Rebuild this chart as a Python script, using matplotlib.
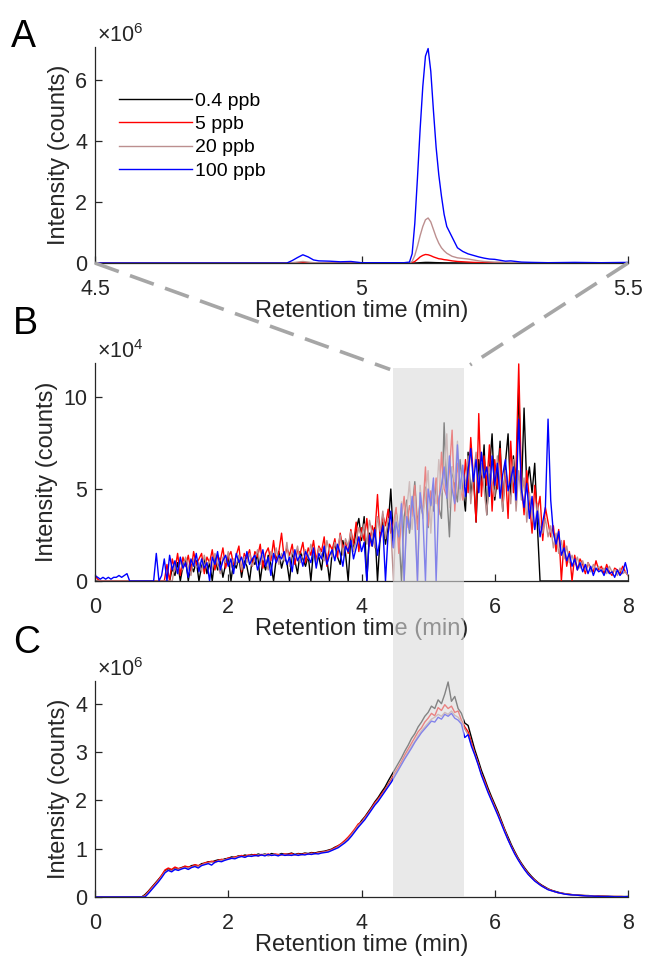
import numpy as np
import matplotlib
matplotlib.use("Agg")
import matplotlib.pyplot as plt
from matplotlib.patches import Rectangle
from matplotlib.lines import Line2D

plt.rcParams['font.family'] = ['Liberation Sans', 'DejaVu Sans']
plt.rcParams['mathtext.fontset'] = 'custom'
plt.rcParams['mathtext.rm'] = 'Liberation Sans'
plt.rcParams['mathtext.it'] = 'Liberation Sans:italic'

# ---------------- data ----------------
labels = ['0.4 ppb', '5 ppb', '20 ppb', '100 ppb']
colors = ['#000000', '#ff0000', '#bc8f8f', '#0000ff']

# panel A: zoom 4.5-5.5 min, intensity in 1e6 counts
rt_a = [4.50, 4.60, 4.70, 4.80, 4.85, 4.86, 4.87, 4.88, 4.89, 4.90,
        4.91, 4.92, 4.94, 4.96, 4.98, 5.00, 5.02, 5.04, 5.06, 5.08,
        5.09, 5.095, 5.10, 5.105, 5.11, 5.115, 5.12, 5.125, 5.13, 5.135,
        5.14, 5.145, 5.15, 5.155, 5.16, 5.17, 5.18, 5.19, 5.20, 5.21,
        5.22, 5.23, 5.24, 5.25, 5.26, 5.27, 5.28, 5.30, 5.32, 5.35,
        5.40, 5.45, 5.50]
a_04 = [0, 0, 0, 0, 0, 0, 0, 0, 0, 0,
        0, 0, 0, 0, 0, 0, 0, 0, 0, 0,
        0, 0, 0, 0.005, 0.01, 0.015, 0.02, 0.02, 0.018, 0.015,
        0.012, 0.01, 0.008, 0.006, 0.005, 0.004, 0.003, 0.002, 0.002, 0.001,
        0, 0, 0, 0, 0, 0, 0, 0, 0, 0,
        0, 0, 0]
a_5 = [0, 0, 0, 0, 0, 0, 0.003, 0.006, 0.01, 0.006,
       0.003, 0.002, 0.001, 0, 0, 0, 0, 0, 0, 0,
       0, 0.01, 0.05, 0.12, 0.2, 0.25, 0.28, 0.27, 0.24, 0.2,
       0.17, 0.14, 0.13, 0.11, 0.1, 0.07, 0.05, 0.04, 0.03, 0.02,
       0.015, 0.01, 0.01, 0.01, 0.008, 0.005, 0.005, 0.003, 0.002, 0.001,
       0, 0, 0]
a_20 = [0, 0, 0, 0, 0, 0, 0.01, 0.03, 0.05, 0.03,
        0.01, 0.01, 0.005, 0, 0, 0, 0, 0, 0, 0,
        0, 0.05, 0.25, 0.55, 0.9, 1.2, 1.42, 1.48, 1.35, 1.1,
        0.85, 0.65, 0.5, 0.4, 0.32, 0.22, 0.17, 0.15, 0.13, 0.1,
        0.07, 0.05, 0.04, 0.03, 0.03, 0.02, 0.02, 0.01, 0.01, 0.01,
        0.005, 0.005, 0.005]
a_100 = [0, 0, 0, 0, 0, 0, 0.08, 0.18, 0.27, 0.2,
         0.1, 0.07, 0.06, 0.04, 0.05, 0.01, 0.01, 0.01, 0.01, 0.01,
         0.03, 0.3, 1.3, 2.8, 4.4, 5.8, 6.8, 7.05, 6.3, 5.0,
         3.8, 2.9, 2.2, 1.6, 1.2, 0.85, 0.5, 0.38, 0.3, 0.25,
         0.2, 0.16, 0.13, 0.12, 0.09, 0.06, 0.07, 0.03, 0.02, 0.01,
         0.02, 0.01, 0.02]

# panel B: extracted ion trace, 0-8 min every 0.04 min, intensity in 1e4 counts
rt_b = np.round(np.arange(201) * 0.04, 2)
b_04 = ([0] * 29 + [0.7] +
        [0.3, 1.0, 0, 0.8, 1.2, 0, 0.9, 0.5, 1.1, 0,
         0.8, 1.2, 0.4, 1.0, 0, 1.3, 0.6, 1.1, 0.2, 0.9,
         1.4, 0, 1.0, 0.7, 1.3, 0.2, 1.1, 0.8, 0, 1.2,
         0.9, 1.5, 0, 1.1, 0.6, 1.4, 0.9, 0, 1.2, 1.6,
         0.7, 1.3, 1.0, 0, 1.5, 1.1, 0.4, 1.6, 1.2, 0.8,
         1.4, 0, 1.7, 1.1, 1.3, 0.6, 1.8, 1.2, 0, 1.6,
         2.0, 1.3, 0.9, 2.2, 1.5, 0, 2.4, 1.8, 2.8, 3.4,
         2.2, 3.5, 0, 2.6, 1.9, 2.9, 0, 2.4, 3.2, 2.0,
         3.0, 5.0, 2.2, 3.8, 2.7, 0, 3.5, 4.4, 2.6, 3.9,
         5.4, 3.1, 4.2, 3.6, 5.1, 2.9, 4.5, 3.8, 5.3, 4.0,
         3.4, 8.6, 4.8, 2.4, 6.2, 5.1, 4.3, 6.6, 5.0, 3.8,
         7.0, 4.6, 5.9, 3.2, 6.6, 5.2, 7.4, 3.6, 6.0, 8.0,
         4.4, 5.6, 7.6, 3.8, 6.4, 8.0, 4.6, 6.8, 5.0, 10.6,
         4.8, 9.4, 5.2, 6.2, 4.8, 6.4, 3.0, 0, 0, 0] +
        [0] * 31)
b_5 = [0.3, 0.1, 0, 0, 0, 0, 0, 0, 0, 0,
       0, 0, 0, 0, 0, 0, 0, 0, 0, 0,
       0, 0, 0, 0, 0, 0, 0, 0.9, 0, 1.2,
       0.6, 1.5, 0.3, 1.3, 0.8, 1.4, 0.5, 1.6, 0.9, 1.2,
       1.5, 0.4, 1.3, 1.0, 1.7, 0.6, 1.4, 1.1, 1.8, 0.7,
       1.3, 1.6, 0.9, 1.4, 1.9, 0.5, 1.5, 1.2, 1.7, 0.8,
       1.6, 1.3, 2.0, 0.7, 1.5, 1.8, 1.1, 2.2, 1.0, 1.6,
       2.6, 1.2, 1.8, 1.4, 2.0, 0.9, 1.7, 1.5, 2.1, 1.0,
       1.8, 1.4, 2.2, 1.1, 1.9, 1.6, 2.4, 0.8, 2.0, 1.7,
       2.3, 1.3, 2.6, 1.8, 2.1, 1.5, 2.8, 2.0, 3.2, 1.6,
       2.9, 2.2, 3.4, 1.9, 3.0, 2.5, 4.7, 2.2, 3.6, 3.0,
       3.9, 2.6, 3.2, 4.0, 1.5, 3.4, 4.6, 2.9, 4.1, 3.5,
       5.2, 2.8, 4.4, 3.8, 6.2, 3.0, 4.9, 4.2, 5.6, 3.6,
       7.0, 5.0, 4.6, 6.0, 8.2, 3.8, 6.4, 5.2, 4.4, 6.6,
       4.8, 7.8, 5.6, 3.2, 9.1, 4.6, 6.8, 5.2, 7.4, 3.8,
       6.6, 5.0, 7.2, 4.2, 6.0, 3.4, 7.6, 4.8, 6.2, 11.8,
       5.4, 3.6, 6.0, 4.4, 2.6, 5.2, 3.8, 4.6, 2.2, 4.0,
       3.2, 2.4, 3.0, 1.6, 2.8, 0, 2.2, 0.8, 1.6, 0,
       1.4, 0.6, 1.2, 0.9, 0.4, 1.0, 0.7, 0.5, 1.1, 0.6,
       0.8, 0.4, 0.9, 0.5, 0.3, 0.7, 0.6, 0.4, 0.8, 0.5, 0.3]
b_20 = ([0] * 30 +
        [0.9, 0.4, 1.1, 0.6, 1.3, 0.8, 0.3, 1.2, 0.7, 1.0,
         0.5, 1.4, 0.8, 1.1, 0.6, 1.5, 0.9, 0.4, 1.3, 1.0,
         1.6, 0.7, 1.2, 0.9, 1.4, 0.6, 1.3, 1.0, 1.5, 0.8,
         1.2, 1.7, 0.9, 1.4, 1.1, 0.6, 1.6, 1.2, 1.8, 0.9,
         1.5, 1.1, 2.1, 0.8, 1.6, 1.3, 1.9, 1.0, 1.4, 1.7,
         1.2, 2.0, 1.5, 0.9, 1.8, 1.4, 1.1, 2.2, 1.6, 1.3,
         2.1, 1.7, 2.5, 1.4, 2.3, 1.9, 2.7, 1.6, 2.2, 2.9,
         2.4, 3.1, 2.0, 3.3, 2.6, 1.8, 3.5, 2.7, 3.8, 2.3,
         3.4, 2.9, 0, 3.6, 2.5, 4.3, 0, 3.9, 5.4, 2.8,
         4.6, 0, 5.2, 3.4, 4.7, 6.0, 2.6, 5.0, 4.2, 6.6,
         4.8, 5.6, 8.0, 4.0, 6.2, 5.4, 7.6, 4.4, 6.0, 5.2,
         6.8, 4.2, 5.8, 7.0, 4.8, 6.4, 5.0, 3.6, 6.2, 5.4,
         4.6, 6.8, 5.2, 3.8, 6.0, 5.4, 4.2, 6.6, 3.8, 6.0,
         4.4, 5.6, 3.2, 4.8, 3.6, 2.8, 4.2, 3.0, 2.6, 3.4,
         2.4, 3.0, 1.8, 2.6, 1.5, 2.2, 1.2, 1.9, 1.0, 1.4,
         0.9, 1.3, 0.7, 1.1, 0.6, 1.0, 0.5, 0.9, 0.6, 0.8,
         0.5, 0.7, 0.4, 0.8, 0.5, 0.6, 0.3, 0.7, 0.4, 0.5, 0.3])
b_100 = [0.3, 0.2, 0.1, 0.2, 0.1, 0.2, 0.1, 0.2, 0.2, 0.3,
         0.2, 0.3, 0.4, 0, 0, 0, 0, 0, 0, 0,
         0, 0, 0, 1.5, 0, 0.3, 1.2, 0, 1.4, 0.6,
         1.1, 0.4, 1.3, 0.7, 1.0, 0.2, 1.2, 0.8, 1.5, 0.5,
         1.2, 0.7, 1.0, 0, 1.3, 0.9, 1.6, 0.6, 1.1, 1.4,
         0.8, 1.2, 0.4, 1.5, 1.0, 1.3, 0.7, 1.6, 0.9, 1.2,
         1.4, 0.6, 1.1, 1.7, 0.8, 1.3, 0.3, 1.5, 1.0, 1.4,
         1.2, 1.6, 0.9, 1.3, 0.5, 1.7, 1.1, 1.4, 0.8, 1.6,
         1.3, 1.0, 1.8, 0.7, 1.5, 1.2, 1.9, 0.9, 1.4, 1.7,
         1.1, 2.0, 1.5, 0.8, 1.9, 1.6, 2.2, 1.2, 1.8, 2.4,
         1.6, 2.1, 0, 2.5, 1.9, 2.8, 1.4, 2.3, 3.0, 0,
         2.6, 3.8, 1.8, 3.2, 2.4, 4.2, 0, 3.5, 2.8, 4.6,
         3.3, 0, 4.8, 3.6, 0, 5.0, 4.1, 5.6, 0, 4.4,
         5.2, 6.2, 4.5, 6.8, 5.0, 4.2, 7.4, 5.0, 6.3, 4.6,
         6.0, 7.2, 5.4, 6.6, 4.8, 7.0, 5.6, 6.2, 4.6, 6.8,
         5.2, 6.4, 4.5, 5.8, 6.6, 4.9, 5.5, 6.2, 4.4, 8.8,
         5.0, 4.0, 5.3, 3.4, 4.6, 2.8, 3.8, 2.4, 3.2, 4.0,
         8.8, 4.4, 2.6, 2.0, 2.7, 1.4, 1.8, 1.1, 1.5, 0.8,
         1.2, 0.6, 1.0, 0.5, 0.9, 0.4, 0.8, 0.3, 0.7, 0.5,
         0.6, 0.3, 0.7, 0.4, 0.5, 0.2, 0.6, 0.3, 0.5, 1.0, 0.4]

# panel C: total ion chromatogram, 0-8 min every 0.05 min, intensity in 1e6 counts
rt_c = np.round(np.arange(161) * 0.05, 2)
c_04 = ([0] * 15 +
        [0.05, 0.12, 0.20, 0.28, 0.36,
         0.44, 0.54, 0.58, 0.55, 0.60, 0.58, 0.61, 0.63, 0.61, 0.65,
         0.66, 0.64, 0.69, 0.70, 0.73, 0.72, 0.75, 0.77, 0.76, 0.79,
         0.80, 0.83, 0.82, 0.85, 0.84, 0.87, 0.85, 0.88, 0.86, 0.89,
         0.87, 0.89, 0.86, 0.90, 0.88, 0.87, 0.90, 0.88, 0.89, 0.91,
         0.88, 0.90, 0.89, 0.91, 0.90, 0.92, 0.91, 0.93, 0.94, 0.95,
         0.97, 0.99, 1.03, 1.06, 1.10, 1.16, 1.22, 1.30, 1.38, 1.47,
         1.58, 1.66, 1.76, 1.86, 1.97, 2.06, 2.17, 2.27, 2.40, 2.52,
         2.64, 2.76, 2.88, 3.02, 3.14, 3.28, 3.38, 3.52, 3.62, 3.74,
         3.82, 3.95, 3.90, 4.08, 4.00, 4.20, 4.45, 4.05, 4.15, 3.90,
         3.80, 3.60, 3.55, 3.30, 3.05, 2.84, 2.62, 2.44, 2.25, 2.08,
         1.92, 1.76, 1.58, 1.40, 1.24, 1.08, 0.94, 0.81, 0.70, 0.60,
         0.51, 0.43, 0.36, 0.30, 0.25, 0.21, 0.17, 0.14, 0.12, 0.10,
         0.08, 0.07, 0.06, 0.05, 0.045, 0.04, 0.035, 0.03, 0.03, 0.025,
         0.02, 0.02, 0.02, 0.015, 0.015, 0.01, 0.01, 0.01, 0.01, 0.01, 0.01])
c_5 = ([0] * 15 +
       [0.03, 0.11, 0.19, 0.27, 0.35,
        0.45, 0.56, 0.60, 0.57, 0.62, 0.59, 0.60, 0.64, 0.62, 0.63,
        0.67, 0.65, 0.67, 0.71, 0.72, 0.74, 0.73, 0.76, 0.78, 0.77,
        0.81, 0.80, 0.83, 0.84, 0.86, 0.84, 0.87, 0.86, 0.88, 0.85,
        0.88, 0.87, 0.89, 0.86, 0.89, 0.88, 0.87, 0.89, 0.88, 0.90,
        0.87, 0.89, 0.88, 0.90, 0.89, 0.91, 0.90, 0.92, 0.93, 0.94,
        0.96, 0.98, 1.02, 1.06, 1.11, 1.17, 1.24, 1.32, 1.41, 1.51,
        1.55, 1.65, 1.74, 1.84, 1.95, 2.03, 2.13, 2.22, 2.33, 2.44,
        2.57, 2.68, 2.80, 2.94, 3.06, 3.18, 3.30, 3.42, 3.50, 3.62,
        3.70, 3.80, 3.75, 3.92, 3.86, 3.98, 3.90, 3.95, 3.82, 3.85,
        3.66, 3.52, 3.42, 3.20, 2.98, 2.78, 2.55, 2.40, 2.20, 2.04,
        1.88, 1.72, 1.55, 1.38, 1.20, 1.05, 0.92, 0.79, 0.68, 0.58,
        0.49, 0.41, 0.35, 0.29, 0.24, 0.20, 0.16, 0.14, 0.11, 0.09,
        0.08, 0.065, 0.055, 0.05, 0.04, 0.035, 0.03, 0.03, 0.025, 0.02,
        0.02, 0.02, 0.015, 0.015, 0.01, 0.01, 0.01, 0.01, 0.01, 0.005, 0.005])
c_20 = ([0] * 15 +
        [0.02, 0.09, 0.17, 0.25, 0.33,
         0.42, 0.52, 0.56, 0.54, 0.58, 0.57, 0.59, 0.61, 0.60, 0.62,
         0.64, 0.63, 0.66, 0.69, 0.70, 0.72, 0.71, 0.75, 0.76, 0.77,
         0.79, 0.80, 0.81, 0.83, 0.84, 0.83, 0.85, 0.86, 0.85, 0.87,
         0.86, 0.88, 0.85, 0.87, 0.88, 0.86, 0.88, 0.87, 0.86, 0.88,
         0.87, 0.88, 0.87, 0.89, 0.88, 0.90, 0.89, 0.91, 0.92, 0.93,
         0.95, 0.97, 1.00, 1.04, 1.09, 1.14, 1.21, 1.29, 1.38, 1.48,
         1.54, 1.63, 1.72, 1.82, 1.92, 2.01, 2.10, 2.20, 2.31, 2.42,
         2.54, 2.64, 2.76, 2.88, 3.00, 3.12, 3.22, 3.34, 3.44, 3.52,
         3.60, 3.68, 3.72, 3.78, 3.74, 3.82, 3.78, 3.85, 3.76, 3.72,
         3.62, 3.48, 3.36, 3.16, 2.96, 2.76, 2.54, 2.36, 2.18, 2.02,
         1.86, 1.70, 1.53, 1.36, 1.19, 1.04, 0.90, 0.78, 0.67, 0.57,
         0.48, 0.40, 0.34, 0.28, 0.23, 0.19, 0.16, 0.13, 0.11, 0.09,
         0.075, 0.065, 0.055, 0.045, 0.04, 0.035, 0.03, 0.025, 0.02, 0.02,
         0.02, 0.015, 0.015, 0.01, 0.01, 0.01, 0.01, 0.005, 0.005, 0.005, 0.005])
c_100 = ([0] * 15 +
         [0.0, 0.07, 0.15, 0.23, 0.31,
          0.40, 0.50, 0.55, 0.52, 0.57, 0.55, 0.58, 0.60, 0.57, 0.61,
          0.63, 0.60, 0.65, 0.67, 0.69, 0.66, 0.72, 0.74, 0.73, 0.76,
          0.78, 0.80, 0.79, 0.82, 0.84, 0.82, 0.85, 0.84, 0.86, 0.85,
          0.87, 0.85, 0.88, 0.86, 0.87, 0.85, 0.88, 0.86, 0.87, 0.86,
          0.88, 0.86, 0.88, 0.87, 0.89, 0.88, 0.90, 0.89, 0.91, 0.92,
          0.93, 0.96, 0.99, 1.02, 1.07, 1.12, 1.18, 1.26, 1.35, 1.44,
          1.52, 1.60, 1.70, 1.80, 1.90, 1.98, 2.08, 2.18, 2.28, 2.38,
          2.50, 2.62, 2.74, 2.86, 2.97, 3.08, 3.20, 3.30, 3.40, 3.48,
          3.56, 3.64, 3.62, 3.72, 3.68, 3.78, 3.74, 3.80, 3.70, 3.66,
          3.58, 3.30, 3.36, 3.12, 2.94, 2.74, 2.52, 2.34, 2.16, 2.00,
          1.84, 1.68, 1.51, 1.34, 1.18, 1.03, 0.89, 0.77, 0.66, 0.56,
          0.47, 0.40, 0.33, 0.28, 0.23, 0.19, 0.15, 0.13, 0.11, 0.09,
          0.075, 0.06, 0.05, 0.045, 0.04, 0.035, 0.03, 0.025, 0.02, 0.02,
          0.015, 0.015, 0.01, 0.01, 0.01, 0.01, 0.005, 0.005, 0.005, 0.005, 0.01])

zoom_window = (4.5, 5.5)      # range shown in panel A
band_window = (4.48, 5.54)    # shaded band as drawn in B and C

# ---------------- figure ----------------
W, H = 645, 963
fig = plt.figure(figsize=(W / 100, H / 100), dpi=100)
AX_COLOR = '#262626'
FS_TICK = 15.5
FS_LABEL = 17


def px_axes(left, top, right, bottom):
    # axes box given in pixel coordinates of the final image
    return fig.add_axes([left / W, 1 - bottom / H, (right - left) / W, (bottom - top) / H])


def style(ax, xlim, ylim, xticks, xlabels, yticks, ylabels, exponent):
    ax.set_xlim(*xlim)
    ax.set_ylim(*ylim)
    for s in ['top', 'right']:
        ax.spines[s].set_visible(False)
    for s in ['left', 'bottom']:
        ax.spines[s].set_color(AX_COLOR)
        ax.spines[s].set_linewidth(0.9)
    ax.set_xticks(xticks, xlabels)
    ax.set_yticks(yticks, ylabels)
    ax.tick_params(direction='in', length=5, width=0.9, colors=AX_COLOR, labelsize=FS_TICK)
    ax.tick_params(axis='x', pad=11.5)
    ax.tick_params(axis='y', pad=5.5)
    ax.set_xlabel('Retention time (min)', fontsize=FS_LABEL, color=AX_COLOR, labelpad=0)
    ax.set_ylabel('Intensity (counts)', fontsize=FS_LABEL, color=AX_COLOR, labelpad=4)
    ax.text(0.004, 1.025, '\u00d710$^{%d}$' % exponent, transform=ax.transAxes,
            fontsize=FS_TICK, color=AX_COLOR, ha='left', va='baseline')


ax_a = px_axes(95, 47, 628, 263)
ax_b = px_axes(95, 363, 628, 581)
ax_c = px_axes(95, 681, 628, 897)

for ys, lab, col in zip([a_04, a_5, a_20, a_100], labels, colors):
    ax_a.plot(rt_a, ys, color=col, lw=1.0, label=lab)
style(ax_a, (4.5, 5.5), (0, 7.1), [4.5, 5, 5.5], ['4.5', '5', '5.5'],
      [0, 2, 4, 6], ['0', '2', '4', '6'], 6)
ax_a.legend(loc='upper left', bbox_to_anchor=(0.02, 0.855), frameon=False,
            fontsize=14, handlelength=3.75, handletextpad=0.12,
            labelspacing=0.3, borderpad=0.2)

for ys, col in zip([b_04, b_5, b_20, b_100], colors):
    ax_b.plot(rt_b, ys, color=col, lw=1.0)
style(ax_b, (0, 8), (0, 11.85), [0, 2, 4, 6, 8], ['0', '2', '4', '6', '8'],
      [0, 5, 10], ['0', '5', '10'], 4)

for ys, col in zip([c_04, c_5, c_20, c_100], colors):
    ax_c.plot(rt_c, ys, color=col, lw=1.0)
style(ax_c, (0, 8), (0, 4.47), [0, 2, 4, 6, 8], ['0', '2', '4', '6', '8'],
      [0, 1, 2, 3, 4], ['0', '1', '2', '3', '4'], 6)

# shaded band spanning panels B and C
to_fig = fig.transFigure.inverted()
band_top = 11.6
x0, y1 = to_fig.transform(ax_b.transData.transform((band_window[0], band_top)))
x1, y0 = to_fig.transform(ax_c.transData.transform((band_window[1], 0)))
fig.add_artist(Rectangle((x0, y0), x1 - x0, y1 - y0, transform=fig.transFigure,
                         facecolor=(0.86, 0.86, 0.86), alpha=0.6, edgecolor='none', zorder=10))

# dashed connectors from panel A corners towards the band
ends = [(4.43, 11.5), (5.63, 11.75)]
for xw, (xe, ye) in zip(zoom_window, ends):
    pa = to_fig.transform(ax_a.transData.transform((xw, 0)))
    pb = to_fig.transform(ax_b.transData.transform((xe, ye)))
    fig.add_artist(Line2D([pa[0], pb[0]], [pa[1], pb[1]], transform=fig.transFigure,
                          color='#a6a6a6', lw=2.6, ls=(0, (7, 3.3)), zorder=11))

for letter, xp, yp in [('A', 11, 19), ('B', 13, 306), ('C', 13, 625)]:
    fig.text(xp / W, 1 - yp / H, letter, fontsize=27, ha='left', va='top')

fig.savefig('out.png', dpi=100)
